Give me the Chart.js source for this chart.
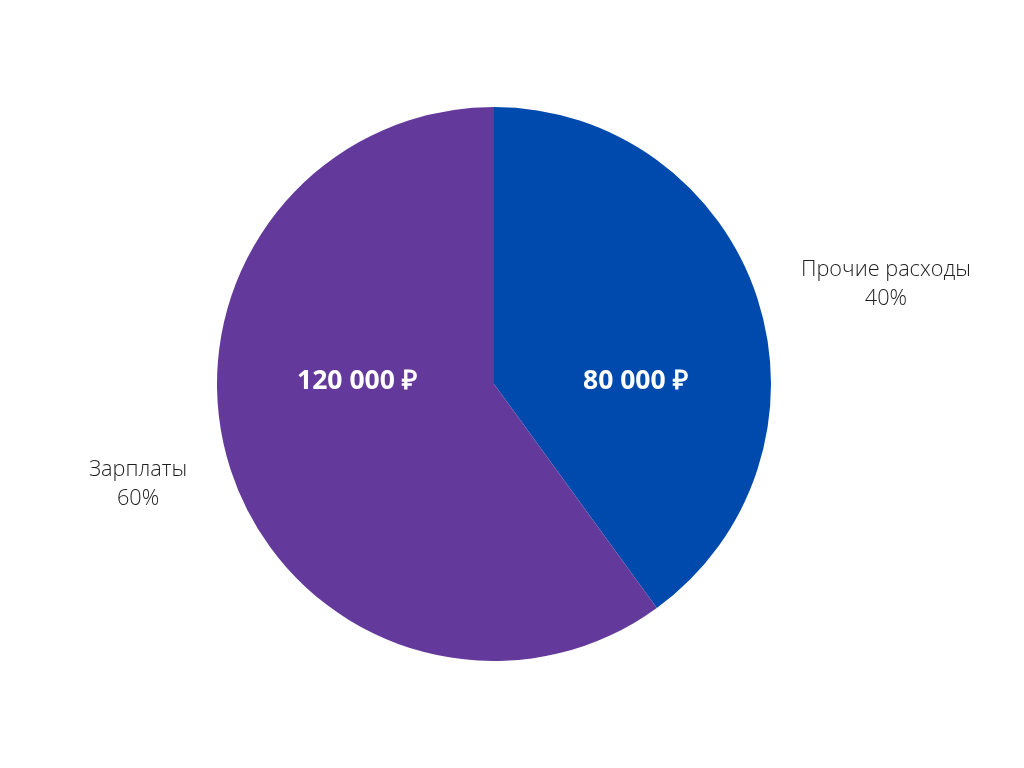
<!DOCTYPE html>
<html>
<head>
<meta charset="utf-8">
<script src="https://cdn.jsdelivr.net/npm/chart.js@4/dist/chart.umd.min.js"></script>
<style>
  html, body { margin: 0; padding: 0; background: #fff; }
  #wrap { width: 1024px; height: 768px; }
</style>
</head>
<body>
<div id="wrap"><canvas id="chart" width="1024" height="768"></canvas></div>
<script>
const categories = ["Прочие расходы", "Зарплаты"];
const amounts = [80000, 120000];
const valueLabels = ["80 000 ₽", "120 000 ₽"];
const percentLabels = ["40%", "60%"];
const sliceColors = ["#004aad", "#633a9b"];

// draws amounts inside the slices and names + percents outside
const sliceLabels = {
    id: "sliceLabels",
    afterDatasetsDraw(chart) {
        const ctx = chart.ctx;
        const arcs = chart.getDatasetMeta(0).data;
        ctx.save();
        ctx.textAlign = "center";
        ctx.textBaseline = "middle";
        arcs.forEach(function (arc, i) {
            const mid = (arc.startAngle + arc.endAngle) / 2;
            const side = Math.cos(mid) >= 0 ? 1 : -1;
            const r = arc.outerRadius;

            ctx.fillStyle = "#ffffff";
            ctx.font = "bold 26.5px 'Open Sans'";
            const ix = side > 0 ? arc.x + r * 0.51 : arc.x - r * 0.495;
            ctx.fillText(valueLabels[i], ix, arc.y - 3);

            ctx.fillStyle = "#1e1e1e";
            ctx.font = "300 21.7px 'Open Sans'";
            const ox = side > 0 ? arc.x + r * 1.415 : arc.x - r * 1.285;
            const oy = side > 0 ? arc.y - 100 : arc.y + 100;
            ctx.fillText(categories[i], ox, oy - 14);
            ctx.fillText(percentLabels[i], ox, oy + 15);
        });
        ctx.restore();
    }
};

new Chart(document.getElementById("chart").getContext("2d"), {
    type: "pie",
    data: {
        labels: categories,
        datasets: [
            {
                data: amounts,
                backgroundColor: sliceColors,
                borderWidth: 0,
            },
        ],
    },
    options: {
        responsive: false,
        animation: false,
        layout: {
            padding: { top: 107, bottom: 107, left: 200, right: 236 },
        },
        plugins: {
            legend: { display: false },
            tooltip: { enabled: false },
        },
    },
    plugins: [sliceLabels],
});
</script>
</body>
</html>
